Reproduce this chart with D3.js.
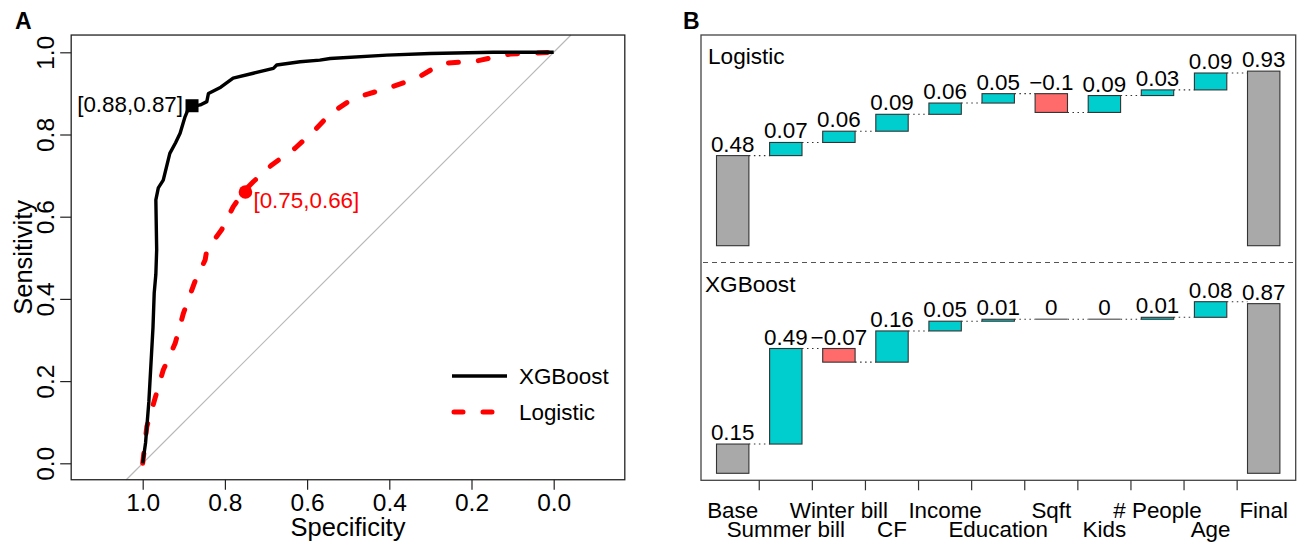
<!DOCTYPE html>
<html><head><meta charset="utf-8">
<script src="https://cdn.jsdelivr.net/npm/d3@7"></script>
<style>
body{margin:0;background:#fff}
text{font-family:"Liberation Sans",Arial,Helvetica,sans-serif;fill:#000}
</style>
</head><body>
<svg id="c" width="1304" height="543"></svg>
<script>
// ---------- Data: panel A (ROC curves) ----------
const xgbSpec = [1.0,0.993,0.985,0.978,0.975,0.972,0.968,0.966,0.968,0.962,0.95,0.934,0.92,0.909,0.897,0.89,0.875,0.86,0.844,0.84,0.81,0.78,0.731,0.682,0.674,0.617,0.569,0.544,0.406,0.3,0.147,0.0];
const xgbSens = [0.0,0.05,0.15,0.276,0.33,0.414,0.46,0.52,0.641,0.67,0.689,0.754,0.78,0.803,0.843,0.86,0.869,0.872,0.88,0.9,0.915,0.937,0.949,0.961,0.969,0.977,0.981,0.985,0.993,0.997,1.0,1.0];
const logSpec = [1.0,0.99,0.97,0.95,0.921,0.901,0.873,0.848,0.844,0.808,0.78,0.751,0.731,0.686,0.63,0.581,0.544,0.488,0.406,0.333,0.272,0.187,0.106,0.0];
const logSens = [0.0,0.089,0.158,0.227,0.292,0.365,0.442,0.495,0.519,0.568,0.624,0.665,0.685,0.726,0.766,0.811,0.85,0.888,0.912,0.937,0.973,0.979,0.996,1.0];
const rocTicks = [1.0,0.8,0.6,0.4,0.2,0.0];
const rocNames = ["XGBoost","Logistic"];
const xgbCutoff = [0.88,0.87];
const logCutoff = [0.75,0.66];

// ---------- Data: panel B (waterfall) ----------
const features = ["Base","Summer bill","Winter bill","CF","Income","Education","Sqft","Kids","# People","Age","Final"];
const logisticContrib = [0.48,0.07,0.06,0.09,0.06,0.05,-0.1,0.09,0.03,0.09,0.93];
const xgboostContrib = [0.15,0.49,-0.07,0.16,0.05,0.01,0,0,0.01,0.08,0.87];
const panelNames = ["Logistic","XGBoost"];

const svg = d3.select("#c");
const FONT_A = 24.5, FONT_B = 22.4;

// ================= Panel A =================
const xA = d3.scaleLinear().domain([1,0]).range([142.7,553.7]);
const yA = d3.scaleLinear().domain([0,1]).range([463.3,52.3]);
const A = svg.append("g");
const bx0 = xA(1.174), bx1 = xA(-0.173), by0 = yA(1.042), by1 = yA(-0.04);

svg.append("text").attr("x",15).attr("y",28.5).attr("font-size",23).attr("font-weight","bold").text("A");

// diagonal
A.append("line").attr("x1",xA(1.04)).attr("y1",yA(-0.04)).attr("x2",xA(-0.042)).attr("y2",yA(1.042))
  .attr("stroke","#b8b8b8").attr("stroke-width",1.2);

// axes
const axB = A.append("g").attr("transform",`translate(0,${by1})`)
  .call(d3.axisBottom(xA).tickValues(rocTicks).tickSize(10).tickFormat(d3.format(".1f")));
axB.select(".domain").remove();
axB.selectAll(".tick line").attr("stroke","#222").attr("stroke-width",1.2);
axB.selectAll(".tick text").attr("font-size",FONT_A).attr("font-family",null).attr("fill","#000")
  .attr("y",31).attr("dy",0);

const axL = A.append("g").attr("transform",`translate(${bx0},0)`)
  .call(d3.axisLeft(yA).tickValues(rocTicks).tickSize(11).tickFormat(d3.format(".1f")));
axL.select(".domain").remove();
axL.selectAll(".tick line").attr("stroke","#222").attr("stroke-width",1.2);
axL.selectAll(".tick text").attr("font-size",FONT_A).attr("font-family",null).attr("fill","#000")
  .attr("transform","rotate(-90)").attr("x",0).attr("y",-17.5).attr("dy",0).attr("text-anchor","middle");

// box
A.append("rect").attr("x",bx0).attr("y",by0).attr("width",bx1-bx0).attr("height",by1-by0)
  .attr("fill","none").attr("stroke","#222").attr("stroke-width",1.3);

// titles
A.append("text").attr("x",(bx0+bx1)/2).attr("y",536).attr("text-anchor","middle").attr("font-size",25.5).text("Specificity");
A.append("text").attr("transform",`translate(31.5,${(by0+by1)/2}) rotate(-90)`).attr("text-anchor","middle").attr("font-size",25.5).text("Sensitivity");

// curves
const line = d3.line().x(d=>xA(d[0])).y(d=>yA(d[1]));
const logPts = logSpec.map((s,i)=>[s,logSens[i]]);
const xgbPts = xgbSpec.map((s,i)=>[s,xgbSens[i]]);
A.append("path").datum(logPts).attr("d",line).attr("fill","none").attr("stroke","#ff0000")
  .attr("stroke-width",5).attr("stroke-dasharray","10,20").attr("stroke-linecap","round").attr("stroke-linejoin","round");
A.append("path").datum(xgbPts).attr("d",line).attr("fill","none").attr("stroke","#000")
  .attr("stroke-width",3.4).attr("stroke-linejoin","round");

// cutoff markers
A.append("rect").attr("x",xA(xgbCutoff[0])-6.5).attr("y",yA(xgbCutoff[1])-6.5).attr("width",13).attr("height",13).attr("fill","#000");
A.append("circle").attr("cx",xA(logCutoff[0])).attr("cy",yA(logCutoff[1])).attr("r",6.8).attr("fill","#ff0000");
A.append("text").attr("x",xA(xgbCutoff[0])-9).attr("y",yA(xgbCutoff[1])+6.5).attr("text-anchor","end")
  .attr("font-size",22.4).text(`[${xgbCutoff[0]},${xgbCutoff[1]}]`);
A.append("text").attr("x",xA(logCutoff[0])+8).attr("y",yA(logCutoff[1])+16).attr("font-size",22.4)
  .style("fill","#ff0000").text(`[${logCutoff[0]},${logCutoff[1]}]`);

// legend
A.append("line").attr("x1",452).attr("x2",507).attr("y1",376).attr("y2",376).attr("stroke","#000").attr("stroke-width",3.4);
A.append("line").attr("x1",454).attr("x2",505).attr("y1",412).attr("y2",412).attr("stroke","#ff0000").attr("stroke-width",5)
  .attr("stroke-dasharray","9,20").attr("stroke-linecap","round");
A.append("text").attr("x",519).attr("y",384).attr("font-size",22.4).text(rocNames[0]);
A.append("text").attr("x",519).attr("y",419.5).attr("font-size",22.4).text(rocNames[1]);

// ================= Panel B =================
svg.append("text").attr("x",683).attr("y",28.5).attr("font-size",23).attr("font-weight","bold").text("B");
const B = svg.append("g");
const xB = d3.scaleBand().domain(features).range([706.15,1290.25]).padding(0);
const barW = xB.bandwidth()*0.61;
const cx = f => xB(f)+xB.bandwidth()/2;
const yLog = d3.scaleLinear().domain([0,1]).range([245.7,58.0]);
const yXgb = d3.scaleLinear().domain([0,1]).range([473.3,278.3]);
const boxL = 701, boxR = 1295.7, boxT = 35, boxB = 480.3, sepY = 262.5;

B.append("rect").attr("x",boxL).attr("y",boxT).attr("width",boxR-boxL).attr("height",boxB-boxT)
  .attr("fill","none").attr("stroke","#444").attr("stroke-width",1.3);
B.append("line").attr("x1",boxL+2).attr("x2",boxR-2).attr("y1",sepY).attr("y2",sepY)
  .attr("stroke","#555").attr("stroke-width",1).attr("stroke-dasharray","5,4");

const fmt = v => (v<0?"\u2212":"") + String(Math.abs(v));

function waterfall(vals, y, title, titleX, titleY){
  const g = B.append("g");
  g.append("text").attr("x",titleX).attr("y",titleY).attr("font-size",22.6).text(title);
  let cum = 0;
  const bars = vals.map((v,i)=>{
    let a,b;
    if(i===0){a=0;b=v;cum=v;}
    else if(i===vals.length-1){a=0;b=v;}
    else {a=cum;b=cum+v;cum=b;}
    return {f:features[i],v,a,b,end:(i===vals.length-1? b : (i===0? v : cum)),i};
  });
  // connectors
  for(let i=0;i<bars.length-1;i++){
    const lvl = bars[i].end;
    g.append("line").attr("x1",cx(bars[i].f)+barW/2).attr("x2",cx(bars[i+1].f)-barW/2)
      .attr("y1",y(lvl)).attr("y2",y(lvl)).attr("stroke","#333").attr("stroke-width",1.1)
      .attr("stroke-dasharray","1.5,3.5");
  }
  bars.forEach(d=>{
    const top = Math.min(y(d.a),y(d.b)), h = Math.abs(y(d.a)-y(d.b));
    const fill = (d.i===0||d.i===vals.length-1) ? "#a9a9a9" : (d.v<0 ? "#ff6a6a" : "#00cdcd");
    if(h<0.5){
      g.append("line").attr("x1",cx(d.f)-barW/2).attr("x2",cx(d.f)+barW/2).attr("y1",top).attr("y2",top)
        .attr("stroke","#777").attr("stroke-width",1.6);
    } else {
      g.append("rect").attr("x",cx(d.f)-barW/2).attr("y",top).attr("width",barW).attr("height",h)
        .attr("fill",fill).attr("stroke","#333").attr("stroke-width",1.1);
    }
    g.append("text").attr("x",cx(d.f)).attr("y",top-4).attr("text-anchor","middle").attr("font-size",FONT_B).text(fmt(d.v));
  });
}
waterfall(logisticContrib, yLog, panelNames[0], 708, 63.5);
waterfall(xgboostContrib, yXgb, panelNames[1], 705, 291.7);

// x axis ticks (all but Final) and staggered labels
const axBB = B.append("g").attr("transform",`translate(${xB.bandwidth()/2},${boxB})`)
  .call(d3.axisBottom(xB).tickValues(features.slice(0,10)).tickSize(10).tickFormat(""));
axBB.select(".domain").remove();
axBB.selectAll(".tick line").attr("stroke","#333").attr("stroke-width",1.2);
features.forEach((f,i)=>{
  B.append("text").attr("x",cx(f)).attr("y", i%2===0 ? 518.3 : 536.8).attr("text-anchor","middle")
    .attr("font-size",FONT_B).text(f);
});
</script>
</body></html>
